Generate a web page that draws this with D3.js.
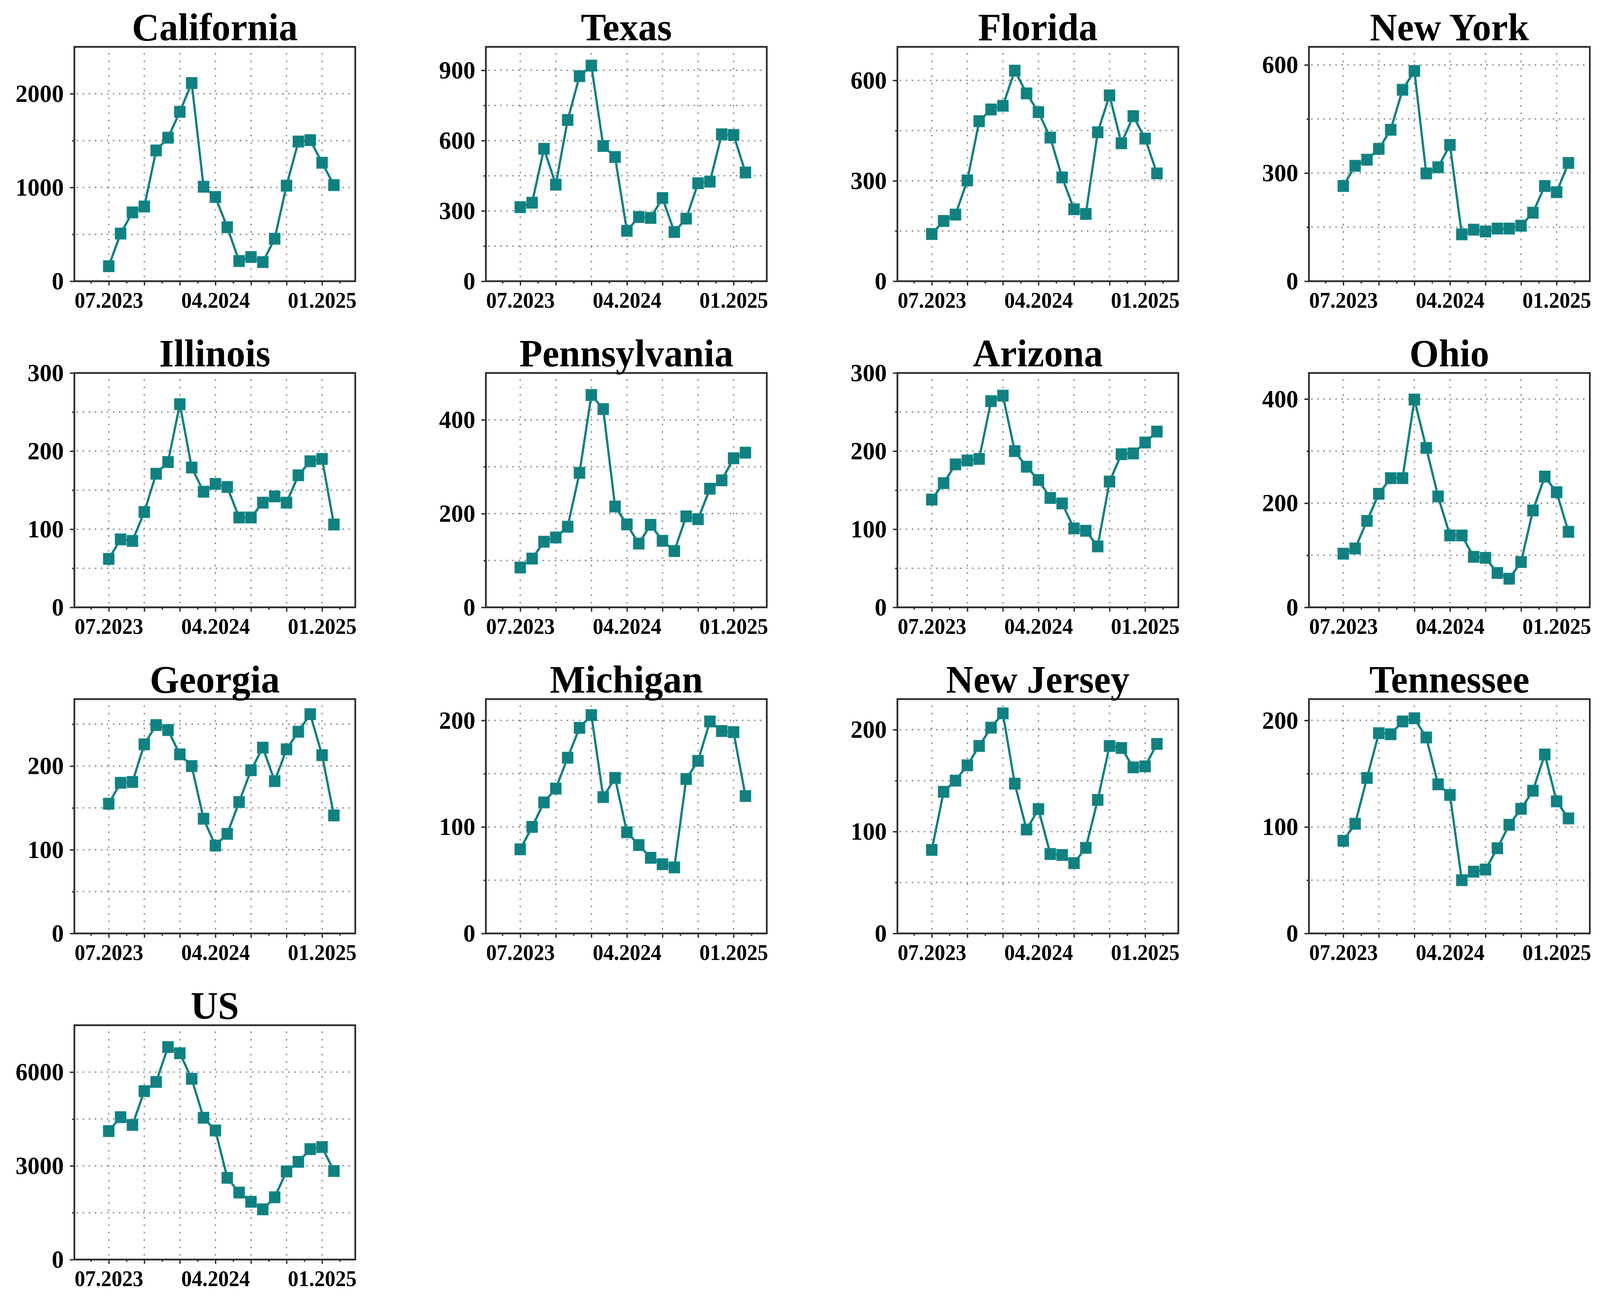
<!DOCTYPE html>
<html>
<head>
<meta charset="utf-8">
<script src="https://cdn.jsdelivr.net/npm/d3@7"></script>
<style>
html, body { margin: 0; padding: 0; background: #fff; overflow: hidden; }
#chart svg { display: block; width: 100vw; height: 100vh; }
svg text { font-family: "Liberation Serif", "Times New Roman", serif; font-weight: bold; fill: #000; }
</style>
</head>
<body>
<div id="chart"></div>
<script>
// monthly values, 07.2023 .. 02.2025 (20 months)
var states = ["California", "Texas", "Florida", "New York", "Illinois", "Pennsylvania", "Arizona", "Ohio",
	"Georgia", "Michigan", "New Jersey", "Tennessee", "US"];

var california   = [160, 508, 734, 797, 1395, 1531, 1807, 2114, 1008, 898, 576, 215, 258, 204, 453, 1019, 1490, 1505, 1264, 1025];
var texas        = [316, 335, 565, 412, 688, 875, 920, 577, 530, 215, 274, 270, 355, 210, 267, 418, 425, 627, 624, 464];
var florida      = [141, 180, 199, 301, 478, 513, 524, 629, 561, 505, 429, 310, 215, 201, 445, 555, 412, 493, 426, 322];
var newYork      = [264, 320, 337, 367, 420, 531, 583, 299, 316, 378, 130, 143, 138, 146, 146, 154, 190, 264, 247, 328];
var illinois     = [62, 87, 85, 122, 171, 186, 260, 179, 148, 158, 154, 115, 115, 134, 142, 134, 169, 187, 190, 106];
var pennsylvania = [85, 104, 140, 149, 172, 287, 453, 423, 215, 177, 136, 176, 142, 120, 194, 188, 253, 271, 318, 330];
var arizona      = [138, 159, 183, 188, 190, 264, 271, 200, 180, 163, 140, 133, 101, 98, 78, 161, 196, 197, 211, 225];
var ohio         = [103, 113, 166, 218, 248, 248, 399, 306, 213, 138, 138, 97, 95, 66, 55, 87, 186, 251, 221, 145];
var georgia      = [155, 180, 181, 226, 249, 243, 214, 200, 137, 105, 119, 157, 195, 222, 182, 220, 241, 262, 213, 141];
var michigan     = [79, 100, 123, 136, 165, 193, 205, 128, 146, 95, 83, 71, 65, 62, 145, 162, 199, 190, 189, 129];
var newJersey    = [82, 139, 150, 165, 184, 202, 216, 147, 102, 122, 78, 77, 69, 84, 131, 184, 182, 163, 164, 186];
var tennessee    = [87, 103, 146, 188, 187, 199, 202, 184, 140, 130, 50, 58, 60, 80, 102, 117, 134, 168, 124, 108];
var us           = [4111, 4557, 4308, 5390, 5685, 6800, 6603, 5784, 4538, 4131, 2616, 2144, 1849, 1607, 1993, 2820, 3128, 3534, 3600, 2833];

var series = [california, texas, florida, newYork, illinois, pennsylvania, arizona, ohio,
	georgia, michigan, newJersey, tennessee, us];

// y axis: top of range, labelled step, minor step
var yMax   = [2500, 1000, 700, 650, 300, 500, 300, 450, 280, 220, 230, 220, 7500];
var yMajor = [1000, 300, 300, 300, 100, 200, 100, 200, 100, 100, 100, 100, 3000];
var yMinor = [500, 150, 150, 150, 50, 100, 50, 100, 50, 50, 50, 50, 1500];

// x axis: month index 0 = 07.2023
var xMajorTicks = [0, 3, 6, 9, 12, 15, 18];
var xLabelTicks = [0, 9, 18];
var xTickLabels = ["07.2023", "04.2024", "01.2025"];

var W = 4238, H = 3326;
var pw = 744, ph = 600;
var left0 = 197, top0 = 120, colGap = 1090, rowGap = 835;
var teal = "#118080";
var axisColor = "#2a2a2a";
var gridColor = "#8c8c8c";

var svg = d3.select("#chart").append("svg")
	.attr("viewBox", "0 0 " + W + " " + H)
	.attr("preserveAspectRatio", "none");

svg.append("rect").attr("width", W).attr("height", H).attr("fill", "#fff");

function drawPanel(g, name, values, top, major, minor)
{
	var xS = d3.scaleLinear().domain([-2.9, 20.8]).range([0, pw]);
	var yS = d3.scaleLinear().domain([0, top]).range([ph, 0]);

	//grid
	var hGrid = d3.range(minor, top - 1e-9, minor);
	g.selectAll(".hgrid").data(hGrid).enter().append("line")
		.attr("x1", 6).attr("x2", pw - 6)
		.attr("y1", function(d) { return yS(d); })
		.attr("y2", function(d) { return yS(d); })
		.attr("stroke", gridColor)
		.attr("stroke-width", 3.5)
		.attr("stroke-dasharray", "4,12");

	g.selectAll(".vgrid").data(xMajorTicks).enter().append("line")
		.attr("y1", 16).attr("y2", ph - 4)
		.attr("x1", function(d) { return xS(d); })
		.attr("x2", function(d) { return xS(d); })
		.attr("stroke", gridColor)
		.attr("stroke-width", 3.5)
		.attr("stroke-dasharray", "4,15");

	//axes
	var yAxis = d3.axisLeft(yS)
		.tickValues(d3.range(0, top + 1e-9, major))
		.tickSize(12)
		.tickPadding(16)
		.tickFormat(d3.format("d"));
	var yMinorAxis = d3.axisLeft(yS)
		.tickValues(hGrid.filter(function(d) { return Math.abs(d / major - Math.round(d / major)) > 1e-6; }))
		.tickSize(6)
		.tickFormat("");
	var xAxis = d3.axisBottom(xS)
		.tickValues(xMajorTicks)
		.tickSize(11)
		.tickPadding(17)
		.tickFormat(function(d) { var k = xLabelTicks.indexOf(d); return k < 0 ? "" : xTickLabels[k]; });
	var xMinorAxis = d3.axisBottom(xS)
		.tickValues(d3.range(-1.5, 20, 3))
		.tickSize(6)
		.tickFormat("");

	var ay = g.append("g").call(yAxis);
	ay.selectAll("text").style("font-size", "64px");
	g.append("g").call(yMinorAxis);
	var ax = g.append("g").attr("transform", "translate(0," + ph + ")").call(xAxis);
	ax.selectAll("text").style("font-size", "56px");
	g.append("g").attr("transform", "translate(0," + ph + ")").call(xMinorAxis);

	g.selectAll(".domain").remove();
	g.selectAll(".tick line").attr("stroke", axisColor).attr("stroke-width", 3.5);

	//frame
	g.append("rect")
		.attr("width", pw)
		.attr("height", ph)
		.attr("fill", "none")
		.attr("stroke", axisColor)
		.attr("stroke-width", 4.5);

	//series
	var line = d3.line()
		.x(function(d, i) { return xS(i); })
		.y(function(d) { return yS(d); });

	g.append("path")
		.datum(values)
		.attr("fill", "none")
		.attr("stroke", teal)
		.attr("stroke-width", 6)
		.attr("d", line);

	g.selectAll(".pt").data(values).enter().append("rect")
		.attr("x", function(d, i) { return xS(i) - 14.5; })
		.attr("y", function(d) { return yS(d) - 14.5; })
		.attr("width", 29)
		.attr("height", 29)
		.attr("fill", teal)
		.attr("stroke", "#1c8e8c")
		.attr("stroke-width", 1.5);

	//title
	g.append("text")
		.attr("x", pw / 2)
		.attr("y", -17)
		.style("text-anchor", "middle")
		.style("font-size", "100px")
		.text(name);
}

states.forEach(function(name, i)
{
	var g = svg.append("g")
		.attr("transform", "translate(" + (left0 + (i % 4) * colGap) + "," + (top0 + Math.floor(i / 4) * rowGap) + ")");
	drawPanel(g, name, series[i], yMax[i], yMajor[i], yMinor[i]);
});
</script>
</body>
</html>
